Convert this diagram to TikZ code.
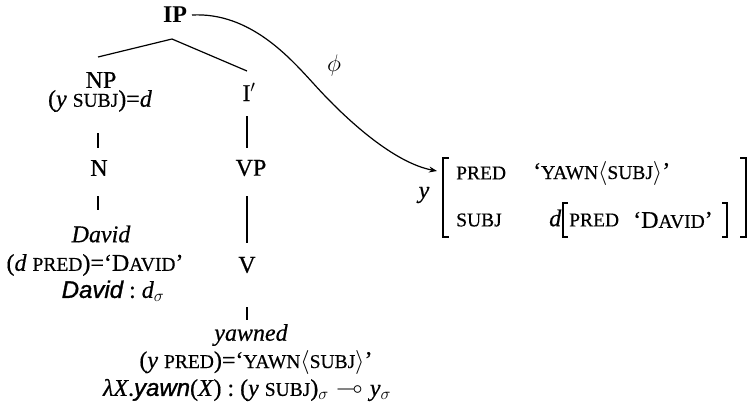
\RequirePackage{fix-cm}
\documentclass[tikz,border=0pt]{standalone}
\usepackage{amssymb}
\usepackage{fontspec}
\setmainfont{Liberation Serif}[UprightFeatures={FakeBold=0.5},ItalicFeatures={FakeBold=0.5}]
\newfontfamily\hsans{Liberation Sans}[ItalicFeatures={FakeBold=1.2}]
\usetikzlibrary{arrows.meta}
\newcommand{\smc}[1]{{\fontsize{19.5}{20}\selectfont #1}}
\newcommand{\vi}[1]{\textit{#1}}
\newcommand{\sfi}[1]{{\hsans\itshape #1}}
\begin{document}
\begin{tikzpicture}[x=1pt,y=-1pt,
  every node/.style={font=\fontsize{24}{26}\selectfont, inner sep=0pt},
  edge/.style={line width=1.2pt},
  fs/.style={anchor=west}]
\useasboundingbox (0,0) rectangle (750,410);
% tree labels
\node[font=\fontsize{24}{26}\selectfont\bfseries] (ip) at (175,15) {IP};
\node (np) at (101,80) {NP};
\node (npeq) at (100,101) {(\vi{y} \smc{SUBJ})=\vi{d}};
\node (ibar) at (249,92) {I$'$};
\node (n) at (99,168) {N};
\node (vp) at (251,168) {VP};
\node (david) at (101,234) {\vi{David}};
\node (dpred) at (95,265) {(\vi{d} \smc{PRED})=‘D\smc{AVID}’};
\node (v) at (247,265) {V};
\node (dsem) at (113,291) {\sfi{David}\hspace{0.25em}:\hspace{0.25em}\vi{d}$_\sigma$};
\node (yawned) at (251,335) {\vi{yawned}};
\node (ypred) at (256,362) {(\vi{y} \smc{PRED})=‘\smc{YAWN}$\langle$\smc{SUBJ}$\rangle$’};
\node (ysem) at (247,390) {\vi{λX}.\sfi{yawn}(\vi{X})\hspace{0.25em}:\hspace{0.25em}(\vi{y} \smc{SUBJ})$_\sigma$\hspace{0.3em}$\multimap$\hspace{0.3em}\vi{y}$_\sigma$};
% tree lines
\coordinate (apex) at (172,39);
\coordinate (npT) at (98,57);
\coordinate (ibT) at (247,71);
\draw[edge] (npT) -- (apex) -- (ibT);
\coordinate (l1a) at (98,133); \coordinate (l1b) at (98,148);
\coordinate (l2a) at (247,116); \coordinate (l2b) at (247,148);
\coordinate (l3a) at (98,196); \coordinate (l3b) at (98,210);
\coordinate (l4a) at (247,196); \coordinate (l4b) at (247,243);
\coordinate (l5a) at (247,307); \coordinate (l5b) at (247,320);
\draw[edge] (l1a) -- (l1b);
\draw[edge] (l2a) -- (l2b);
\draw[edge] (l3a) -- (l3b);
\draw[edge] (l4a) -- (l4b);
\draw[edge] (l5a) -- (l5b);
% phi arrow
\coordinate (ipE) at (192,15);
\coordinate (phimid) at (313,83);
\coordinate (arrT) at (437,171);
\draw[edge,-{Stealth[length=8pt,width=6pt]}] (ipE) .. controls (250,12) and (290,58) .. (phimid)
   .. controls (348,122) and (395,163) .. (arrT);
\node (phi) at (334,65) {$\phi$};
% f-structure
\node (fy) at (424,195) {\vi{y}};
\draw[edge] (449,158) -- (443,158) -- (443,237) -- (449,237);
\draw[edge] (740,158) -- (746,158) -- (746,237) -- (740,237);
\draw[edge] (568,203) -- (563,203) -- (563,237) -- (568,237);
\draw[edge] (722,203) -- (727,203) -- (727,237) -- (722,237);
\node[fs] (fpred) at (456,173) {\smc{PRED}};
\node[fs] (fyawn) at (533,173) {‘\smc{YAWN}$\langle$\smc{SUBJ}$\rangle$’};
\node[fs] (fsubj) at (456,220) {\smc{SUBJ}};
\node[fs] (fd) at (549,218) {\vi{d}};
\node[fs] (fpred2) at (569,220) {\smc{PRED}};
\node[fs] (fdavid) at (633,220) {‘D\smc{AVID}’};
\end{tikzpicture}
\end{document}
